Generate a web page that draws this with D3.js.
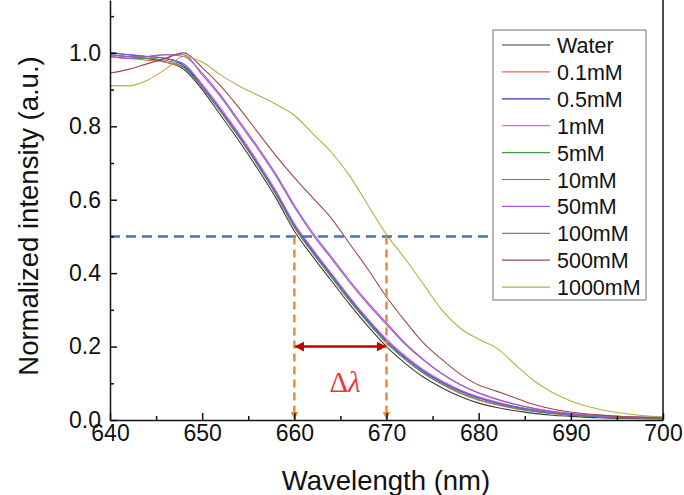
<!DOCTYPE html>
<html lang="en">
<head>
  <meta charset="UTF-8">
  <title>Normalized intensity vs wavelength</title>
  <script src="https://d3js.org/d3.v7.min.js"></script>
  <style>
    body { margin: 0; background: #fff; font-family: Arial, "Liberation Sans", sans-serif; }
    svg { display: block; }
  </style>
</head>
<body>
  <script>
    const width = 684;
    const height = 495;

    // wavelength grid (nm) shared by every series
    const wavelengths = [640,642,644,646,648,650,652,654,656,658,660,662,664,666,668,670,672,674,676,678,680,682,684,686,688,690,693,696,700];

    const water   = [0.995,0.99,0.985,0.975,0.955,0.90,0.83,0.76,0.685,0.605,0.515,0.445,0.38,0.315,0.255,0.20,0.155,0.117,0.088,0.064,0.046,0.034,0.025,0.018,0.013,0.010,0.006,0.004,0.003];
    const mM0_1   = [0.99,0.985,0.98,0.975,0.96,0.905,0.84,0.77,0.695,0.615,0.525,0.455,0.39,0.325,0.265,0.21,0.165,0.127,0.097,0.072,0.054,0.041,0.031,0.023,0.017,0.013,0.009,0.006,0.005];
    const mM0_5   = [1.0,0.995,0.99,0.985,0.965,0.91,0.845,0.775,0.70,0.62,0.53,0.46,0.395,0.33,0.27,0.215,0.17,0.132,0.102,0.078,0.06,0.046,0.035,0.026,0.019,0.014,0.01,0.007,0.006];
    const mM1     = [0.995,0.99,0.99,0.985,0.97,0.915,0.85,0.78,0.705,0.625,0.535,0.465,0.40,0.335,0.275,0.22,0.175,0.137,0.107,0.082,0.063,0.049,0.037,0.028,0.021,0.016,0.011,0.008,0.006];
    const mM5     = [0.99,0.985,0.985,0.98,0.96,0.905,0.84,0.77,0.695,0.615,0.525,0.455,0.39,0.325,0.265,0.21,0.166,0.128,0.098,0.074,0.056,0.043,0.032,0.024,0.018,0.013,0.009,0.006,0.005];
    const mM10    = [1.0,0.995,0.99,0.985,0.97,0.91,0.845,0.775,0.70,0.62,0.532,0.462,0.397,0.332,0.272,0.217,0.172,0.134,0.104,0.08,0.061,0.047,0.036,0.027,0.02,0.015,0.01,0.007,0.006];
    const mM50    = [0.99,0.985,0.99,0.995,0.99,0.945,0.885,0.815,0.745,0.67,0.585,0.51,0.445,0.38,0.32,0.265,0.21,0.165,0.127,0.097,0.074,0.057,0.043,0.032,0.024,0.018,0.012,0.009,0.007];
    const mM100   = [0.995,0.99,0.99,0.995,0.995,0.94,0.88,0.81,0.74,0.665,0.58,0.505,0.44,0.375,0.315,0.26,0.207,0.163,0.126,0.096,0.073,0.056,0.042,0.031,0.023,0.017,0.012,0.009,0.008];
    const mM500   = [0.945,0.955,0.97,0.985,1.0,0.96,0.91,0.85,0.785,0.72,0.66,0.605,0.55,0.48,0.41,0.335,0.27,0.21,0.165,0.125,0.095,0.078,0.06,0.042,0.03,0.022,0.014,0.009,0.006];
    const mM1000  = [0.91,0.91,0.925,0.955,0.99,0.975,0.94,0.91,0.885,0.86,0.83,0.78,0.73,0.665,0.585,0.505,0.44,0.37,0.30,0.25,0.22,0.195,0.15,0.107,0.075,0.052,0.03,0.017,0.008];

    const seriesNames  = ["Water","0.1mM","0.5mM","1mM","5mM","10mM","50mM","100mM","500mM","1000mM"];
    const seriesValues = [water, mM0_1, mM0_5, mM1, mM5, mM10, mM50, mM100, mM500, mM1000];
    const seriesColors = ["#3c3c3c","#ff5a5a","#3333cc","#ff55ff","#3f9f3f","#6464dd","#a855ee","#a060b0","#a04848","#b0b048"];

    const xTicks = [640,650,660,670,680,690,700];
    const yTicks = [0.0,0.2,0.4,0.6,0.8,1.0];
    const halfLevel = 0.5;
    const fwhmPoints = [660, 670];

    const plotLeft = 110, plotRight = 663, plotTop = 0, plotBottom = 420;

    const x = d3.scaleLinear().domain([640, 700]).range([plotLeft, plotRight]);
    const y = d3.scaleLinear().domain([0, 1.144]).range([plotBottom, plotTop]);

    const svg = d3.select("body").append("svg")
      .attr("width", width)
      .attr("height", height);

    const defs = svg.append("defs");
    defs.append("marker").attr("id", "arrRed")
      .attr("viewBox", "0 0 10 10").attr("refX", 9).attr("refY", 5)
      .attr("markerWidth", 4).attr("markerHeight", 4).attr("orient", "auto-start-reverse")
      .append("path").attr("d", "M0,0 L10,5 L0,10 z").attr("fill", "#c00000");
    defs.append("marker").attr("id", "arrOrange")
      .attr("viewBox", "0 0 10 10").attr("refX", 9).attr("refY", 5)
      .attr("markerWidth", 3.2).attr("markerHeight", 3.2).attr("orient", "auto")
      .append("path").attr("d", "M0,0 L10,5 L0,10 z").attr("fill", "#f08a3c");

    // curves
    const line = d3.line()
      .x((d, i) => x(wavelengths[i]))
      .y(d => y(d))
      .curve(d3.curveMonotoneX);

    svg.append("g").selectAll("path")
      .data(seriesValues)
      .enter().append("path")
      .attr("d", d => line(d))
      .attr("fill", "none")
      .attr("stroke", (d, i) => seriesColors[i])
      .attr("stroke-width", 1.1);

    // half-maximum guide
    svg.append("line")
      .attr("x1", x(640)).attr("x2", 490)
      .attr("y1", y(halfLevel)).attr("y2", y(halfLevel))
      .attr("stroke", "#4472c4").attr("stroke-width", 2.5)
      .attr("stroke-dasharray", "10,6");

    svg.selectAll(".vguide")
      .data(fwhmPoints)
      .enter().append("line")
      .attr("class", "vguide")
      .attr("x1", d => x(d)).attr("x2", d => x(d))
      .attr("y1", y(halfLevel)).attr("y2", y(0) - 1)
      .attr("stroke", "#f08a3c").attr("stroke-width", 2.5)
      .attr("stroke-dasharray", "8,5")
      .attr("marker-end", "url(#arrOrange)");

    svg.append("line")
      .attr("x1", x(fwhmPoints[0]) + 1).attr("x2", x(fwhmPoints[1]) - 1)
      .attr("y1", y(0.2)).attr("y2", y(0.2))
      .attr("stroke", "#c00000").attr("stroke-width", 2.5)
      .attr("marker-start", "url(#arrRed)")
      .attr("marker-end", "url(#arrRed)");

    svg.append("text")
      .attr("x", 345).attr("y", 392)
      .attr("text-anchor", "middle")
      .attr("font-family", "'Liberation Serif', 'Times New Roman', serif")
      .attr("font-size", 29)
      .attr("fill", "#e8383c")
      .html("&#916;<tspan font-style='italic'>&#955;</tspan>");

    // axes
    svg.append("g").attr("transform", `translate(0,${plotBottom})`)
      .call(d3.axisBottom(x).tickValues(xTicks).tickFormat(d3.format("d")).tickSizeInner(-7).tickSizeOuter(0).tickPadding(5));
    svg.append("g").attr("transform", `translate(0,${plotBottom})`)
      .call(d3.axisBottom(x).tickValues(d3.range(645, 700, 10)).tickFormat("").tickSizeInner(-4).tickSizeOuter(0))
      .call(g => g.select(".domain").remove());

    svg.append("g").attr("transform", `translate(${plotLeft},0)`)
      .call(d3.axisLeft(y).tickValues(yTicks).tickFormat(d3.format(".1f")).tickSizeInner(-7).tickSizeOuter(0).tickPadding(9));
    svg.append("g").attr("transform", `translate(${plotLeft},0)`)
      .call(d3.axisLeft(y).tickValues([0.1,0.3,0.5,0.7,0.9,1.1]).tickFormat("").tickSizeInner(-4).tickSizeOuter(0))
      .call(g => g.select(".domain").remove());

    svg.selectAll(".domain").attr("stroke", "#111").attr("stroke-width", 1.5);
    svg.selectAll(".tick line").attr("stroke", "#111").attr("stroke-width", 1.5);
    svg.selectAll(".tick text").attr("font-size", 23).attr("fill", "#111")
      .attr("font-family", "Arial, 'Liberation Sans', sans-serif");

    svg.append("line")
      .attr("x1", plotRight).attr("x2", plotRight).attr("y1", plotTop).attr("y2", plotBottom)
      .attr("stroke", "#111").attr("stroke-width", 1.5);

    // axis titles
    svg.append("text")
      .attr("x", 386).attr("y", 490)
      .attr("text-anchor", "middle").attr("font-size", 27.5).attr("fill", "#111")
      .text("Wavelength (nm)");
    svg.append("text")
      .attr("transform", "translate(38,216) rotate(-90)")
      .attr("text-anchor", "middle").attr("font-size", 27.5).attr("fill", "#111")
      .text("Normalized intensity (a.u.)");

    // legend
    const legend = svg.append("g");
    legend.append("rect")
      .attr("x", 493).attr("y", 30).attr("width", 153).attr("height", 270)
      .attr("fill", "#fff").attr("stroke", "#888").attr("stroke-width", 1.2);
    const items = legend.selectAll(".item")
      .data(seriesNames)
      .enter().append("g")
      .attr("transform", (d, i) => `translate(0,${45 + i * 26.9})`);
    items.append("line")
      .attr("x1", 502).attr("x2", 550)
      .attr("stroke", (d, i) => seriesColors[i]).attr("stroke-width", 1.2);
    items.append("text")
      .attr("x", 557).attr("y", 8)
      .attr("font-size", 21.5).attr("fill", "#111")
      .text(d => d);
  </script>
</body>
</html>
